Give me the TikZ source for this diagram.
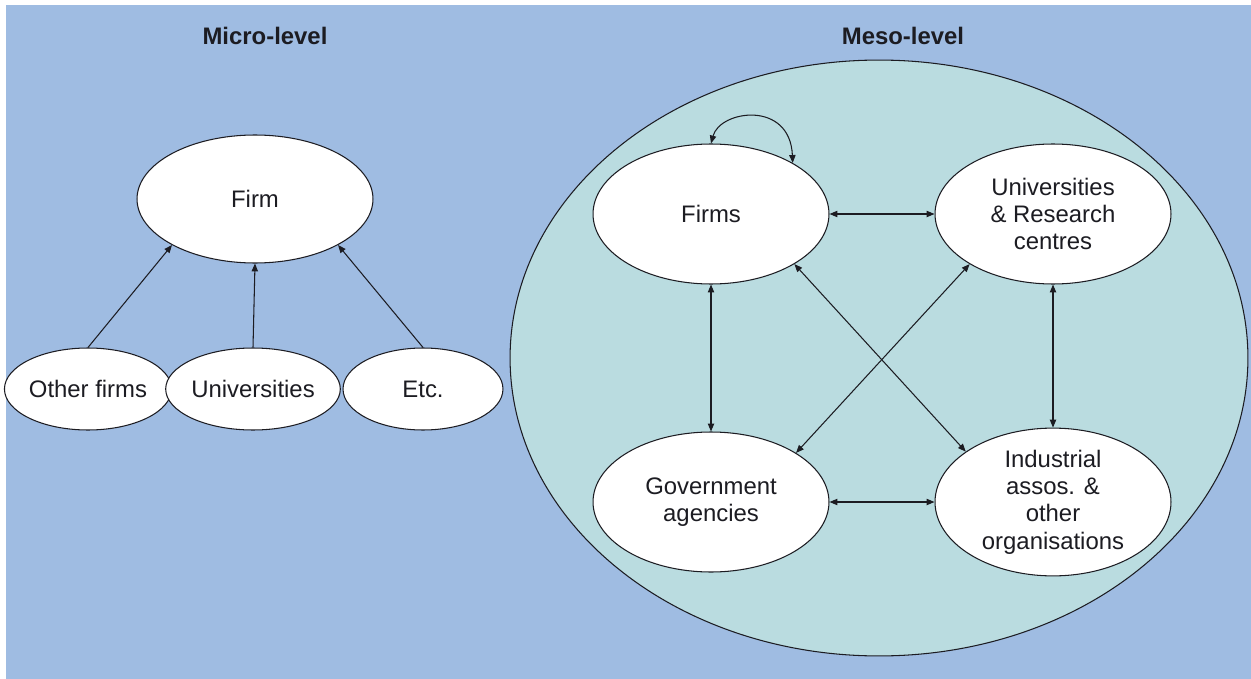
\documentclass[tikz,border=0pt]{standalone}
\usepackage{fontspec}
\setmainfont{Liberation Sans}
\usepackage{xcolor}
\usetikzlibrary{arrows.meta,positioning,shapes}

\definecolor{microbg}{RGB}{159,188,226}
\definecolor{mesobg}{RGB}{186,220,224}
\definecolor{inkdark}{RGB}{28,28,34}

\tikzset{
    actor/.style={ellipse, draw=inkdark, fill=white, line width=0.6pt, inner sep=0pt, align=center},
    innersmall/.style={actor, minimum width=3.2cm, minimum height=1.64cm},
    innerbig/.style={actor, minimum width=4.72cm, minimum height=2.8cm},
    link/.style={draw=inkdark, line width=0.6pt}
}

\begin{document}
\begin{tikzpicture}[x=0.02cm, y=-0.02cm, >={Triangle[length=4.5pt,width=3.6pt]},
    every node/.style={font=\fontsize{13.6}{15.6}\selectfont, text=inkdark}]
    % Frame
    \useasboundingbox (0,0) rectangle (1251,679);
    \fill[microbg] (6,5) rectangle (1251,679);

    % Title row
    \node[font=\fontsize{13.6}{15.6}\selectfont\bfseries] (microtitle) at (265,36) {Micro-level};
    \node[font=\fontsize{13.6}{15.6}\selectfont\bfseries] (mesotitle) at (903,36) {Meso-level};

    % Micro-level: one firm and its sources
    \node[actor, minimum width=4.72cm, minimum height=2.56cm] (firm) at (255,199) {Firm};
    \node[innersmall] (otherfirms) at (88,389) {Other firms};
    \node[innersmall] (univs) at (253,389) {Universities};
    \node[innersmall] (etc) at (423,389) {Etc.};

    \draw[link, ->] (otherfirms.north) -- (firm.209);
    \draw[link, ->] (univs.north) -- (firm.south);
    \draw[link, ->] (etc.north) -- (firm.-29);

    % Meso-level: the regional system
    \node[ellipse, draw=inkdark, fill=mesobg, line width=0.6pt, inner sep=0pt,
          minimum width=14.76cm, minimum height=11.92cm] (mesoarea) at (879,358) {};

    \node[innerbig] (firms) at (711,214) {Firms};
    \node[innerbig] (unirc) at (1053,214) {Universities\\ \& Research\\ centres};
    \node[innerbig] (gov) at (711,502) {Government\\ agencies};
    \node[innerbig] (indassos) at (1053,502) {Industrial\\ assos. \&\\ other\\ organisations};

    % Links between actors
    \draw[link, <->] (firms.north) .. controls (720,110) and (790,100) .. (firms.32);
    \draw[link, <->] (firms.east) -- (unirc.west);
    \draw[link, <->] (gov.east) -- (indassos.west);
    \draw[link, <->] (firms.south) -- (gov.north);
    \draw[link, <->] (unirc.south) -- (indassos.north);
    \draw[link, <->] (firms.-31.5) -- (indassos.150);
    \draw[link, <->] (unirc.211) -- (gov.30);
\end{tikzpicture}
\end{document}
